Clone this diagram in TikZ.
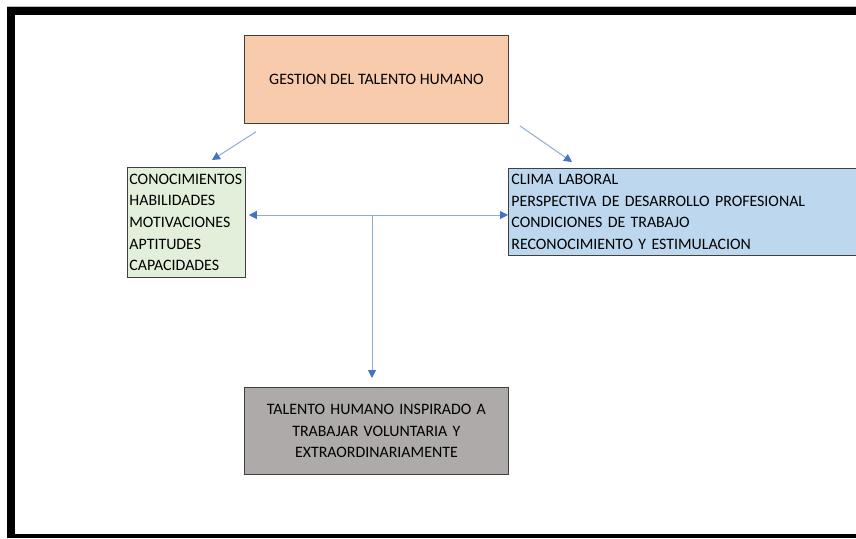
\documentclass[tikz,border=0pt]{standalone}
\usepackage{fontspec}
\setmainfont{Carlito}
\usepackage{tikz}
\usetikzlibrary{arrows.meta,positioning}
\definecolor{Peach}{HTML}{F8CBAD}
\definecolor{Leaf}{HTML}{E2EFDA}
\definecolor{Sky}{HTML}{BDD7EE}
\definecolor{Stone}{HTML}{AEAAAA}
\definecolor{Edge}{HTML}{404040}
\definecolor{LinkLine}{HTML}{8FAADC}
\definecolor{LinkHead}{HTML}{4472C4}
\begin{document}
\begin{tikzpicture}[x=1pt,y=-1pt,
  box/.style={draw=Edge,line width=0.8pt,inner ysep=0pt,anchor=north west,font=\fontsize{15.9}{21.7}\selectfont},
  link/.style={draw=LinkLine,line width=1pt,-{Triangle[length=8pt,width=8pt,color=LinkHead]}},
  twoway/.style={draw=LinkLine,line width=1pt,{Triangle[length=8pt,width=8pt,color=LinkHead]}-{Triangle[length=8pt,width=8pt,color=LinkHead]}}]
\path[use as bounding box] (0,0) rectangle (856,538);
\clip (0,0) rectangle (856,538);

% frame
\draw[gray!55,line width=0.8pt] (7,6.5) -- (856,6.5);
\fill[black] (7,7) rectangle (856,15);
\fill[black] (7,7) rectangle (15,538);
\fill[black] (7,534) rectangle (856,538);

% boxes
\node[box,fill=Peach,minimum width=264pt,minimum height=88pt,align=center] (gestion) at (244,35) {GESTION DEL TALENTO HUMANO};
\node[box,fill=Leaf,minimum width=118pt,minimum height=110pt,inner xsep=2pt,text width=114pt,align=left] (factores) at (127,167)
  {CONOCIMIENTOS\\HABILIDADES\\MOTIVACIONES\\APTITUDES\\CAPACIDADES};
\node[box,fill=Sky,minimum width=400pt,minimum height=87pt,inner xsep=3pt,text width=394pt,align=left] (clima) at (508,168)
  {CLIMA LABORAL\\PERSPECTIVA DE DESARROLLO PROFESIONAL\\CONDICIONES DE TRABAJO\\RECONOCIMIENTO Y ESTIMULACION};
\node[box,fill=Stone,minimum width=264pt,minimum height=87pt,text width=240pt,align=center] (talento) at (244,387)
  {TALENTO HUMANO INSPIRADO A\\TRABAJAR VOLUNTARIA Y\\EXTRAORDINARIAMENTE};

% connectors
\coordinate (g1) at ([shift={(12pt,-8pt)}]gestion.south west);
\coordinate (f1) at ([shift={(85pt,7pt)}]factores.north west);
\coordinate (g2) at ([shift={(11pt,-2pt)}]gestion.south east);
\coordinate (c1) at ([shift={(64pt,6pt)}]clima.north west);
\coordinate (cruce) at (372,215);
\draw[link] (g1) -- (f1);
\draw[link] (g2) -- (c1);
\draw[twoway] ([xshift=3pt]factores.east |- cruce) -- (clima.west |- cruce);
\draw[link] (cruce) -- ([yshift=9pt]cruce |- talento.north);
\end{tikzpicture}
\end{document}
